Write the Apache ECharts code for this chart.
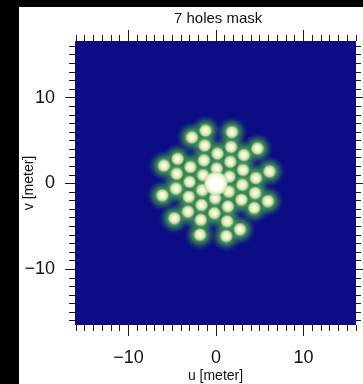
<!DOCTYPE html>
<html>
<head>
<meta charset="utf-8">
<script src="https://cdn.jsdelivr.net/npm/echarts@6.0.0/dist/echarts.min.js"></script>
<style>
html,body{margin:0;padding:0;background:#fff;}
#chart{width:363px;height:384px;}
</style>
</head>
<body>
<div id="chart"></div>
<script>
// ---- data ----
const titleText = '7 holes mask';
const xName = 'u [meter]';
const yName = 'v [meter]';
const xRange = [-16.1, 16.0];
const yRange = [-16.5, 16.6];
const majorTicks = [-10, 0, 10];
const minorTicks = [-16, -15, -14, -13, -12, -11, -9, -8, -7, -6, -5, -4, -3, -2, -1,
                    1, 2, 3, 4, 5, 6, 7, 8, 9, 11, 12, 13, 14, 15, 16];
// uv positions of the 42 baseline spots (meters)
const spotU = [-1.19, 1.82, -2.74, -1.28, 1.73, 4.74, 0.18, 3.19, -4.38, -1.37, 1.64,
               -5.93, -2.92, -4.47, 0.09, 3.10, 6.11, -3.01, -1.46, 1.55, 4.56,
               1.19, -1.82, 2.74, 1.28, -1.73, -4.74, -0.18, -3.19, 4.38, 1.37, -1.64,
               5.93, 2.92, 4.47, -0.09, -3.10, -6.11, 3.01, 1.46, -1.55, -4.56];
const spotV = [6.14, 5.97, 5.36, 4.41, 4.24, 4.07, 3.46, 3.29, 2.85, 2.68, 2.51,
               2.07, 1.90, 1.12, 1.73, 1.56, 1.39, 0.17, 0.95, 0.78, 0.61,
               -6.14, -5.97, -5.36, -4.41, -4.24, -4.07, -3.46, -3.29, -2.85, -2.68, -2.51,
               -2.07, -1.90, -1.12, -1.73, -1.56, -1.39, -0.17, -0.95, -0.78, -0.61];
const centerU = [0];
const centerV = [0];

// ---- build ----
const spots = spotU.map((u, i) => [u, spotV[i]]);
const center = centerU.map((u, i) => [u, centerV[i]]);
const FONT = '"Liberation Sans", Arial, Helvetica, sans-serif';
const tickColor = '#1a1a1a';
const fmt = v => String(v).replace('-', '\u2212');

function radial(stops) {
  return new echarts.graphic.RadialGradient(0.5, 0.5, 0.5,
    stops.map(s => ({offset: s[0], color: s[1]})));
}

function xAxisDef(pos, ticks, len, labels, name) {
  return {
    type: 'value', position: pos, min: xRange[0], max: xRange[1],
    axisLine: {show: false, onZero: false},
    splitLine: {show: false},
    axisTick: {show: true, inside: false, length: len, customValues: ticks,
               lineStyle: {color: tickColor, width: 1}},
    axisLabel: labels ? {show: true, customValues: majorTicks, formatter: fmt,
               fontSize: 18, color: '#111', fontFamily: FONT, margin: 24}
               : {show: false},
    name: name || '', nameLocation: 'middle', nameGap: 44, nameMoveOverlap: false,
    nameTextStyle: {fontSize: 14, color: '#111', fontFamily: FONT}
  };
}
function yAxisDef(pos, ticks, len, labels, name) {
  return {
    type: 'value', position: pos, min: yRange[0], max: yRange[1],
    axisLine: {show: false, onZero: false},
    splitLine: {show: false},
    axisTick: {show: true, inside: false, length: len, customValues: ticks,
               lineStyle: {color: tickColor, width: 1}},
    axisLabel: labels ? {show: true, customValues: majorTicks, formatter: fmt,
               fontSize: 18, color: '#111', fontFamily: FONT, margin: 20}
               : {show: false},
    name: name || '', nameLocation: 'middle', nameGap: 39, nameRotate: 90, nameMoveOverlap: false,
    nameTextStyle: {fontSize: 14, color: '#111', fontFamily: FONT}
  };
}

const chart = echarts.init(document.getElementById('chart'), null, {renderer: 'canvas'});
chart.setOption({
  backgroundColor: '#ffffff',
  animation: false,
  title: {
    text: titleText, left: 169, top: 6,
    textStyle: {fontSize: 15, fontWeight: 'normal', color: '#111', fontFamily: FONT}
  },
  grid: {left: 75, top: 41, width: 281, height: 284, show: true,
         backgroundColor: '#0c0c84', borderWidth: 0, containLabel: false,
         outerBoundsMode: 'none'},
  xAxis: [
    xAxisDef('bottom', majorTicks, 11, true, xName),
    xAxisDef('bottom', minorTicks, 6, false),
    xAxisDef('top', majorTicks, 11, false),
    xAxisDef('top', minorTicks, 6, false)
  ],
  yAxis: [
    yAxisDef('left', majorTicks, 10, true, yName),
    yAxisDef('left', minorTicks, 6, false),
    yAxisDef('right', majorTicks, 10, false),
    yAxisDef('right', minorTicks, 5, false)
  ],
  graphic: [
    {type: 'rect', left: 0, top: 0, shape: {width: 363, height: 7}, style: {fill: '#000'}, z: 100},
    {type: 'rect', left: 0, top: 0, shape: {width: 19, height: 384}, style: {fill: '#000'}, z: 100}
  ],
  series: [
    {
      type: 'scatter', xAxisIndex: 0, yAxisIndex: 0, symbol: 'circle', symbolSize: 32,
      data: spots.concat(center), silent: true, z: 2,
      itemStyle: {opacity: 1,
                  color: radial([[0, 'rgba(100,175,105,1)'], [0.42, 'rgba(72,150,90,0.95)'],
                                 [0.68, 'rgba(48,118,88,0.55)'], [1, 'rgba(20,50,130,0)']])}
    },
    {
      type: 'scatter', xAxisIndex: 0, yAxisIndex: 0, symbol: 'circle', symbolSize: 14,
      data: spots, silent: true, z: 3,
      itemStyle: {opacity: 1,
                  color: radial([[0, '#fffff2'], [0.4, '#f3f1c6'], [0.72, '#bcdaa2'],
                                 [1, 'rgba(130,195,125,0)']])}
    },
    {
      type: 'scatter', xAxisIndex: 0, yAxisIndex: 0, symbol: 'circle', symbolSize: 26,
      data: center, silent: true, z: 4,
      itemStyle: {opacity: 1,
                  color: radial([[0, '#ffffff'], [0.55, '#fdfdf0'], [0.8, '#dceabf'],
                                 [1, 'rgba(140,200,130,0)']])}
    }
  ]
});
</script>
</body>
</html>
